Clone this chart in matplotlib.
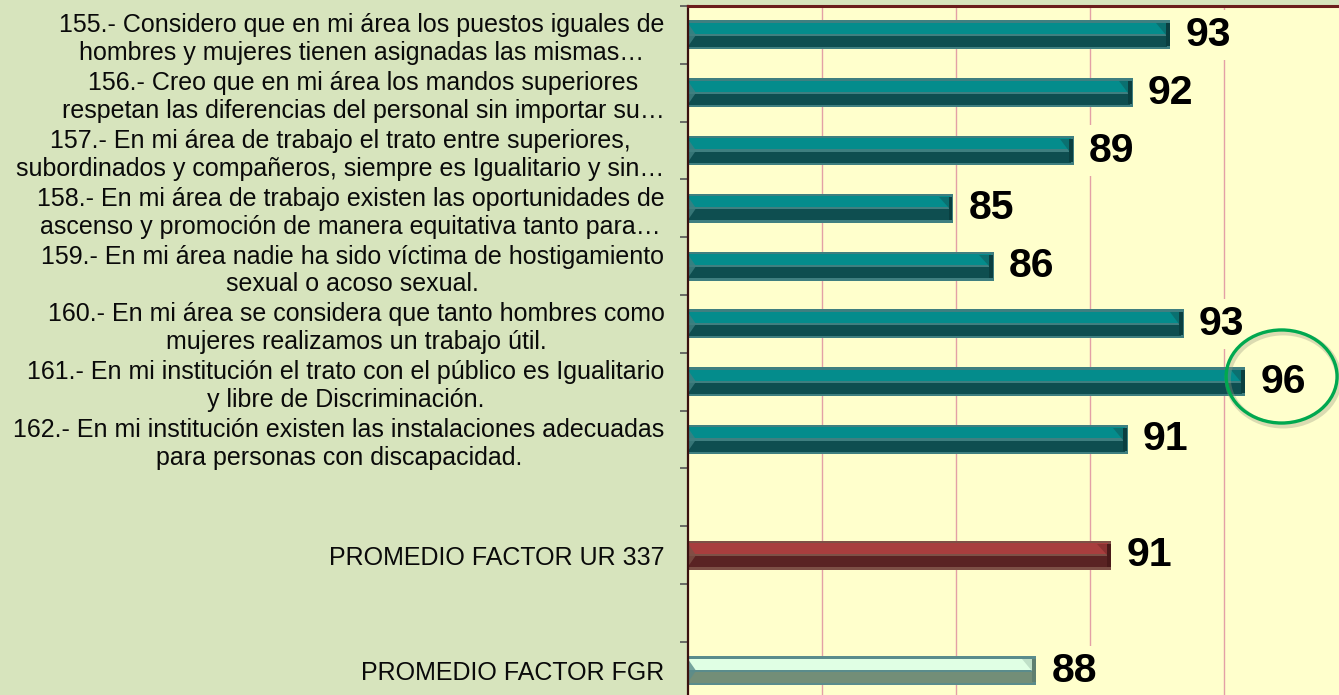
import matplotlib
matplotlib.use("Agg")
import matplotlib.pyplot as plt
import numpy as np
from matplotlib.patches import Ellipse, Polygon

plt.rcParams['font.family'] = ['Liberation Sans', 'DejaVu Sans']

categories = [
    "155.- Considero que en mi área los puestos iguales de\nhombres y mujeres tienen asignadas las mismas…",
    "156.- Creo que en mi área los mandos superiores\nrespetan las diferencias del personal sin importar su…",
    "157.- En mi área de trabajo el trato entre superiores,\nsubordinados y compañeros, siempre es Igualitario y sin…",
    "158.- En mi área de trabajo existen las oportunidades de\nascenso y promoción de manera equitativa tanto para…",
    "159.- En mi área nadie ha sido víctima de hostigamiento\nsexual o acoso sexual.",
    "160.- En mi área se considera que tanto hombres como\nmujeres realizamos un trabajo útil.",
    "161.- En mi institución el trato con el público es Igualitario\ny libre de Discriminación.",
    "162.- En mi institución existen las instalaciones adecuadas\npara personas con discapacidad.",
    "PROMEDIO FACTOR UR 337",
    "PROMEDIO FACTOR FGR",
]
values = [93.0, 91.6, 89.4, 84.9, 86.4, 93.5, 95.8, 91.4, 90.8, 88.0]
value_labels = ["93", "92", "89", "85", "86", "93", "96", "91", "91", "88"]
series_kind = ["q"] * 8 + ["ur", "fgr"]

XMIN, XMAX = 75, 100
positions = list(range(8)) + [9, 11]
NSLOTS = 12

styles = {
    "q":   dict(border="#3f7f80", light="#048c8c", dark="#0e4e50", cap="#0a3f40", mid="#0b7070"),
    "ur":  dict(border="#7d5046", light="#a83e3e", dark="#5a2323", cap="#4a1a1a", mid="#8a3232"),
    "fgr": dict(border="#5a8c8c", light="#e0ffe4", dark="#738e78", cap="#5f7f70", mid="#c0e0c8"),
}

W, H, DPI = 1339, 695, 100
fig = plt.figure(figsize=(W / DPI, H / DPI), dpi=DPI)
fig.patch.set_facecolor("#d7e4bd")

ax_left = 688 / W
ax_top = 6 / H
slot_px = 57.8
ax_h = NSLOTS * slot_px / H
ax_w = (XMAX - XMIN) * 26.8 / W
ax = fig.add_axes([ax_left, 1 - ax_top - ax_h, ax_w, ax_h])
ax.set_facecolor("#ffffcc")
ax.set_xlim(XMIN, XMAX)
ax.set_ylim(NSLOTS - 0.5, -0.5)

# grid
ax.set_xticks([80, 85, 90, 95, 100])
ax.tick_params(axis='x', length=0, labelbottom=False)
ax.grid(axis='x', color="#e3a0a6", linewidth=1.0, zorder=0)
ax.set_axisbelow(True)

# y ticks: boundaries as major ticks, labels at slot centers
ax.set_yticks(np.arange(-0.5, NSLOTS, 1.0))
ax.tick_params(axis='y', which='major', length=6, width=1.2, color="#555555", labelleft=False)
ax.set_yticks(positions, minor=True)
ax.set_yticklabels(categories, minor=True, fontsize=18, linespacing=1.2)
ax.tick_params(axis='y', which='minor', length=0, pad=17)
for lbl in ax.get_yticklabels(minor=True):
    lbl.set_multialignment('center')
    lbl.set_color("#0a0a0a")

for s in ["right", "bottom"]:
    ax.spines[s].set_visible(False)
ax.spines["top"].set_color("#6b1c1c")
ax.spines["top"].set_linewidth(2.2)
ax.spines["left"].set_color("#3a1010")
ax.spines["left"].set_linewidth(1.6)

bh = 0.5
vals = np.array(values)
pos = np.array(positions, dtype=float)
inset_x = 3 / 26.8
for kind in styles:
    idx = [i for i, k in enumerate(series_kind) if k == kind]
    if not idx:
        continue
    st = styles[kind]
    p = pos[idx]
    v = vals[idx]
    ax.barh(p, v - XMIN, left=XMIN, height=bh, color=st["border"], zorder=2)
    ax.barh(p + bh / 4 - 0.01, v - XMIN - inset_x, left=XMIN, height=bh / 2 - 0.06,
            color=st["dark"], zorder=2.1)
    ax.barh(p - bh / 4 + 0.01, v - XMIN - inset_x, left=XMIN, height=bh / 2 - 0.06,
            color=st["light"], zorder=2.1)
    # right-end cap
    ax.barh(p, inset_x * 1.3, left=v - inset_x * 1.6, height=bh - 0.1,
            color=st["cap"], zorder=2.2)
    for pi, vi in zip(p, v):
        top = pi - bh / 2 + 0.05
        tri = Polygon([(vi - inset_x * 1.6 - 0.35, top), (vi - inset_x * 1.6, top),
                       (vi - inset_x * 1.6, pi)], closed=True,
                      facecolor=st["mid"], edgecolor='none', zorder=2.3)
        ax.add_patch(tri)
        ltri = Polygon([(XMIN, top), (XMIN + 0.3, pi), (XMIN, pi + bh / 2 - 0.05)], closed=True,
                       facecolor=st["border"], edgecolor='none', zorder=2.3, alpha=0.8)
        ax.add_patch(ltri)

# value labels
for pi, vi, lab in zip(pos, vals, value_labels):
    ax.text(vi + 15 / 26.8, pi, lab, fontsize=29.5, fontweight='bold', va='center', ha='left',
            color="black", zorder=4,
            bbox=dict(boxstyle="square,pad=0.15", facecolor="#ffffcc", edgecolor='none'),
            clip_on=False)

# highlight circle around the maximum
imax = int(np.argmax(vals))
shadow = Ellipse((97.15 + 0.06, pos[imax] - 0.09 + 0.04), width=4.14, height=1.61, fill=False,
                 edgecolor="#9a9a80", linewidth=4.5, alpha=0.35, zorder=4.9, clip_on=False)
ax.add_patch(shadow)
circ = Ellipse((97.15, pos[imax] - 0.09), width=4.14, height=1.61, fill=False,
               edgecolor="#00a84f", linewidth=2.4, zorder=5, clip_on=False)
ax.add_patch(circ)

fig.savefig("out.png", dpi=DPI, facecolor=fig.get_facecolor())
